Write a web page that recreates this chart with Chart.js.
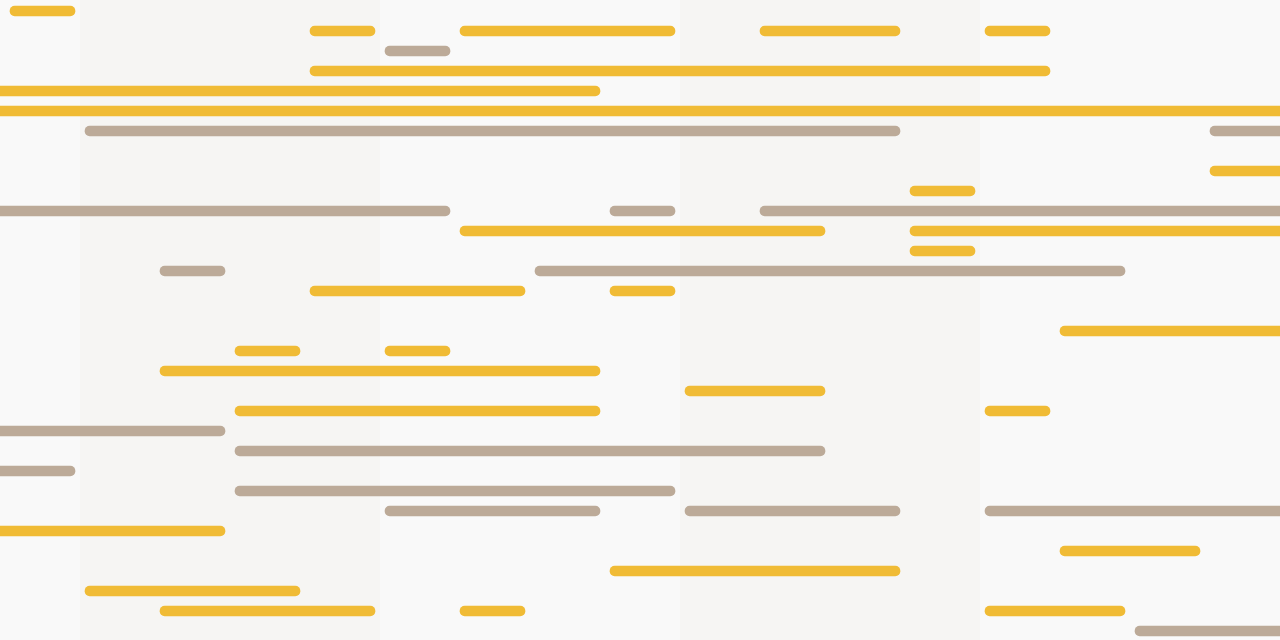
<!DOCTYPE html>
<html>
<head>
<meta charset="utf-8">
<script src="https://cdn.jsdelivr.net/npm/chart.js@4/dist/chart.umd.min.js"></script>
<style>
  html, body { margin: 0; padding: 0; background: #f9f9f9; overflow: hidden; }
  #wrap { position: relative; width: 1280px; height: 641px; }
</style>
</head>
<body>
<div id="wrap"><canvas id="chart"></canvas></div>
<script>
/* Timeline of slots: each bar covers slots start..end (inclusive) */

const rows = Array.from({ length: 32 }, (_, i) => `Row ${i + 1}`);

// [row index, first slot, last slot]; -1 / 17 run off the edge
const yellowBars = [
  [0, 0, 0],
  [1, 4, 4], [1, 6, 8], [1, 10, 11], [1, 13, 13],
  [3, 4, 13],
  [4, -1, 7],
  [5, -1, 17],
  [8, 16, 17],
  [9, 12, 12],
  [11, 6, 10], [11, 12, 17],
  [12, 12, 12],
  [14, 4, 6], [14, 8, 8],
  [16, 14, 17],
  [17, 3, 3], [17, 5, 5],
  [18, 2, 7],
  [19, 9, 10],
  [20, 3, 7], [20, 13, 13],
  [26, -1, 2],
  [27, 14, 15],
  [28, 8, 11],
  [29, 1, 3],
  [30, 2, 4], [30, 6, 6], [30, 13, 14],
];

const taupeBars = [
  [2, 5, 5],
  [6, 1, 11], [6, 16, 17],
  [10, -1, 5], [10, 8, 8], [10, 10, 17],
  [13, 2, 2], [13, 7, 14],
  [21, -1, 2],
  [22, 3, 10],
  [23, -1, 0],
  [24, 3, 8],
  [25, 5, 7], [25, 9, 11], [25, 13, 17],
  [31, 15, 17],
];

// shaded column bands, in slots [from, to)
const bandFrom = [1, 9];
const bandTo = [5, 13];

const YELLOW = '#f0bb35';
const TAUPE = '#bcaa98';
const BAND = '#f6f5f3';
const GAP = 1 / 15; // inset at each end of a slot

const toPoints = (list) => list.map(([r, a, b]) => ({ y: rows[r], x: [a + GAP, b + 1 - GAP] }));

const bandsPlugin = {
  id: 'bands',
  beforeDatasetsDraw(chart) {
    const { ctx, scales } = chart;
    ctx.save();
    ctx.fillStyle = BAND;
    bandFrom.forEach((f, i) => {
      const x0 = scales.x.getPixelForValue(f);
      const x1 = scales.x.getPixelForValue(bandTo[i]);
      ctx.fillRect(x0, 0, x1 - x0, chart.height);
    });
    ctx.restore();
  },
};

new Chart(document.getElementById('chart'), {
  type: 'bar',
  data: {
    labels: rows,
    datasets: [
      { label: 'Yellow', data: toPoints(yellowBars), backgroundColor: YELLOW },
      { label: 'Taupe', data: toPoints(taupeBars), backgroundColor: TAUPE },
    ],
  },
  options: {
    indexAxis: 'y',
    responsive: true,
    maintainAspectRatio: false,
    animation: false,
    layout: { padding: { top: 1, left: 0, right: 0, bottom: 0 } },
    datasets: {
      bar: { grouped: false, barThickness: 10, borderRadius: 5, borderSkipped: false },
    },
    plugins: { legend: { display: false }, tooltip: { enabled: false } },
    scales: {
      x: { type: 'linear', min: -GAP, max: 17, display: false },
      y: { type: 'category', display: false },
    },
  },
  plugins: [bandsPlugin],
});
</script>
</body>
</html>
